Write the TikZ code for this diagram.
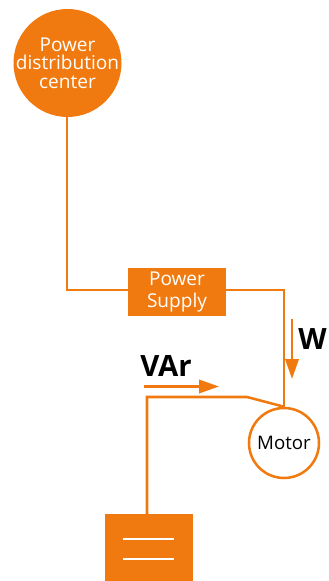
\documentclass[tikz,border=0pt]{standalone}
\usepackage{fontspec}
\setmainfont{Open Sans}
\usetikzlibrary{arrows.meta}
\definecolor{supplyorange}{HTML}{F07A10}
\tikzset{
  wire/.style={draw=supplyorange, line width=1.9pt},
  flow/.style={draw=supplyorange, line width=1.9pt, -{Triangle[length=15pt,width=10pt]}},
  orangebox/.style={fill=supplyorange, text=white, rectangle, inner sep=0pt, align=center},
  platewire/.style={draw=white, line width=1.5pt},
  flowlabel/.style={font=\bfseries\fontsize{22pt}{24pt}\selectfont, inner sep=0pt}
}
\begin{document}
\begin{tikzpicture}[x=0.75pt,y=-0.75pt]
            \useasboundingbox (0,0) rectangle (328,581);
            % Source and load
            \node[orangebox, circle, minimum size=81pt, inner sep=-14pt, font=\fontsize{14.3pt}{14pt}\selectfont] (pdc) at (67.5,63) {Power\\distribution\\center};
            \node[orangebox, minimum width=73.5pt, minimum height=36pt, font=\fontsize{14.3pt}{16.5pt}\selectfont] (supply) at (177,292) {Power\\Supply};
            \node[draw=supplyorange, line width=1.9pt, circle, minimum size=52.5pt, inner sep=0pt, font=\fontsize{14pt}{16pt}\selectfont] (motor) at (284,443) {Motor};
            \node[orangebox, minimum width=66pt, minimum height=50.25pt] (bank) at (149,547.5) {};

            % Turning points
            \coordinate (pdcturn) at (67,290);
            \coordinate (supplyturn) at (284,290);
            \coordinate (bankturn) at (147,397);
            \coordinate (bend) at (247,397);
            \coordinate (bankin) at (147,514);

            % Wires
            \draw[wire] (pdc.south -| pdcturn) -- (pdcturn) -- (pdcturn -| supply.west);
            \draw[wire] (supplyturn -| supply.east) -- (supplyturn) -- (motor.north);
            \draw[wire] (bankin) -- (bankturn) -- (bend) -- (motor.north);

            % Capacitor plates
            \coordinate (plate1a) at (123,539);
            \coordinate (plate1b) at (174,539);
            \coordinate (plate2a) at (123,559);
            \coordinate (plate2b) at (174,559);
            \draw[platewire] (plate1a) -- (plate1b);
            \draw[platewire] (plate2a) -- (plate2b);

            % Flows
            \coordinate (wstart) at (292,319);
            \coordinate (wend) at (292,379);
            \coordinate (varstart) at (144,386.5);
            \coordinate (varend) at (219,386.5);
            \draw[flow] (wstart) -- (wend);
            \draw[flow] (varstart) -- (varend);
            \node[flowlabel] (wlabel) at (312.5,339) {W};
            \node[flowlabel] (varlabel) at (166,366) {VAr};
\end{tikzpicture}
\end{document}
